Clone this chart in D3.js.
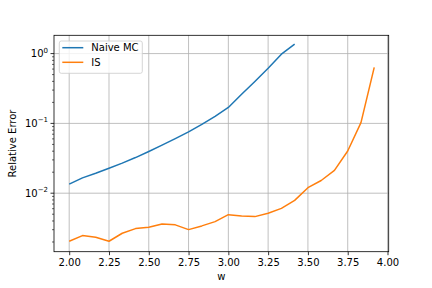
<!DOCTYPE html>
<html>
<head>
<meta charset="utf-8">
<script src="https://cdn.jsdelivr.net/npm/d3@7"></script>
<style>
  body { margin: 0; background: #fff; }
  text { font-family: "DejaVu Sans", sans-serif; fill: #000; }
</style>
</head>
<body>
<div id="chart"></div>
<script>
// w grid, step 1/12
var wValues = d3.range(24).map(function(i) { return 2 + i / 12; });

var naiveMC = [0.0135, 0.0166, 0.0193, 0.0228, 0.0270, 0.0324, 0.0396, 0.0488, 0.0604,
               0.0756, 0.0968, 0.126, 0.169, 0.261, 0.398, 0.615, 0.98, 1.37];

var isErr = [0.00205, 0.00247, 0.00234, 0.00205, 0.00267, 0.00311, 0.00325, 0.00363,
             0.00352, 0.00301, 0.00340, 0.00392, 0.00493, 0.00472, 0.00462, 0.00515,
             0.00607, 0.00789, 0.0120, 0.0152, 0.0212, 0.0402, 0.1026, 0.635];

var xTicks = [2.0, 2.25, 2.5, 2.75, 3.0, 3.25, 3.5, 3.75, 4.0];
var yMajor = [0, -1, -2];   // exponents
var seriesNames = ["Naive MC", "IS"];
var colors = ["#1f77b4", "#ff7f0e"];

var W = 432, H = 288;
var margin = {top: 35.3, right: 43.3, bottom: 36.3, left: 54};
var width = W - margin.left - margin.right;
var height = H - margin.top - margin.bottom;

var svg = d3.select("#chart").append("svg")
    .attr("width", W).attr("height", H);

var g = svg.append("g")
    .attr("transform", "translate(" + margin.left + "," + margin.top + ")");

var xScale = d3.scaleLinear()
    .domain([1.9045, 4.0076])
    .range([0, width]);

var yScale = d3.scaleLog()
    .domain([Math.pow(10, -2.838), Math.pow(10, 0.262)])
    .range([height, 0]);

// grid
g.append("g").selectAll("line").data(xTicks).enter().append("line")
    .attr("x1", function(d) { return xScale(d); })
    .attr("x2", function(d) { return xScale(d); })
    .attr("y1", 0).attr("y2", height)
    .attr("stroke", "#b0b0b0").attr("stroke-width", 0.8);

g.append("g").selectAll("line").data(yMajor).enter().append("line")
    .attr("x1", 0).attr("x2", width)
    .attr("y1", function(d) { return yScale(Math.pow(10, d)); })
    .attr("y2", function(d) { return yScale(Math.pow(10, d)); })
    .attr("stroke", "#b0b0b0").attr("stroke-width", 0.8);

// lines
var line = d3.line()
    .x(function(d) { return xScale(d[0]); })
    .y(function(d) { return yScale(d[1]); });

[naiveMC, isErr].forEach(function(s, k) {
    g.append("path")
      .datum(s.map(function(v, i) { return [wValues[i], v]; }))
      .attr("fill", "none")
      .attr("stroke", colors[k])
      .attr("stroke-width", 1.5)
      .attr("stroke-linejoin", "round")
      .attr("d", line);
});

// x axis
var xAxis = g.append("g")
    .attr("transform", "translate(0," + height + ")")
    .call(d3.axisBottom(xScale).tickValues(xTicks)
        .tickFormat(d3.format(".2f")).tickSize(3.5).tickPadding(3.5));
xAxis.select(".domain").remove();
xAxis.selectAll("text").attr("font-size", 10).attr("font-family", "DejaVu Sans");
xAxis.selectAll("line").attr("stroke-width", 0.8);

// y axis: minor ticks
var minor = [];
for (var e = -3; e <= 0; e++) {
    for (var m = 2; m <= 9; m++) {
        var v = m * Math.pow(10, e);
        if (v >= yScale.domain()[0] && v <= yScale.domain()[1]) minor.push(v);
    }
}
g.append("g").selectAll("line").data(minor).enter().append("line")
    .attr("x1", -2).attr("x2", 0)
    .attr("y1", function(d) { return yScale(d); })
    .attr("y2", function(d) { return yScale(d); })
    .attr("stroke", "#000").attr("stroke-width", 0.6);

var yt = g.append("g").selectAll("g").data(yMajor).enter().append("g")
    .attr("transform", function(d) { return "translate(0," + yScale(Math.pow(10, d)) + ")"; });
yt.append("line").attr("x1", -3.5).attr("x2", 0)
    .attr("stroke", "#000").attr("stroke-width", 0.8);
var lbl = yt.append("text")
    .attr("x", -6).attr("y", 3.5)
    .attr("text-anchor", "end")
    .attr("font-size", 10);
lbl.append("tspan").text("10");
lbl.append("tspan").attr("dy", -4.5).attr("font-size", 7)
    .text(function(d) { return d === 0 ? "0" : "\u2212" + (-d); });

// frame
g.append("rect")
    .attr("width", width).attr("height", height)
    .attr("fill", "none").attr("stroke", "#000").attr("stroke-width", 0.8);

// labels
svg.append("text")
    .attr("x", margin.left + width / 2).attr("y", 280)
    .attr("text-anchor", "middle").attr("font-size", 10)
    .text("w");

svg.append("text")
    .attr("transform", "translate(16," + (margin.top + height / 2) + ") rotate(-90)")
    .attr("text-anchor", "middle").attr("font-size", 10)
    .text("Relative Error");

// legend
var leg = g.append("g").attr("transform", "translate(5.3,5.7)");
leg.append("rect")
    .attr("width", 83).attr("height", 32.3).attr("rx", 2)
    .attr("fill", "#fff").attr("fill-opacity", 0.8)
    .attr("stroke", "#cccccc").attr("stroke-width", 0.8);
seriesNames.forEach(function(name, k) {
    var yy = 6.7 + k * 14.6;
    leg.append("line")
      .attr("x1", 3).attr("x2", 24).attr("y1", yy).attr("y2", yy)
      .attr("stroke", colors[k]).attr("stroke-width", 1.5);
    leg.append("text")
      .attr("x", 32).attr("y", yy + 3.6)
      .attr("font-size", 10).text(name);
});
</script>
</body>
</html>
